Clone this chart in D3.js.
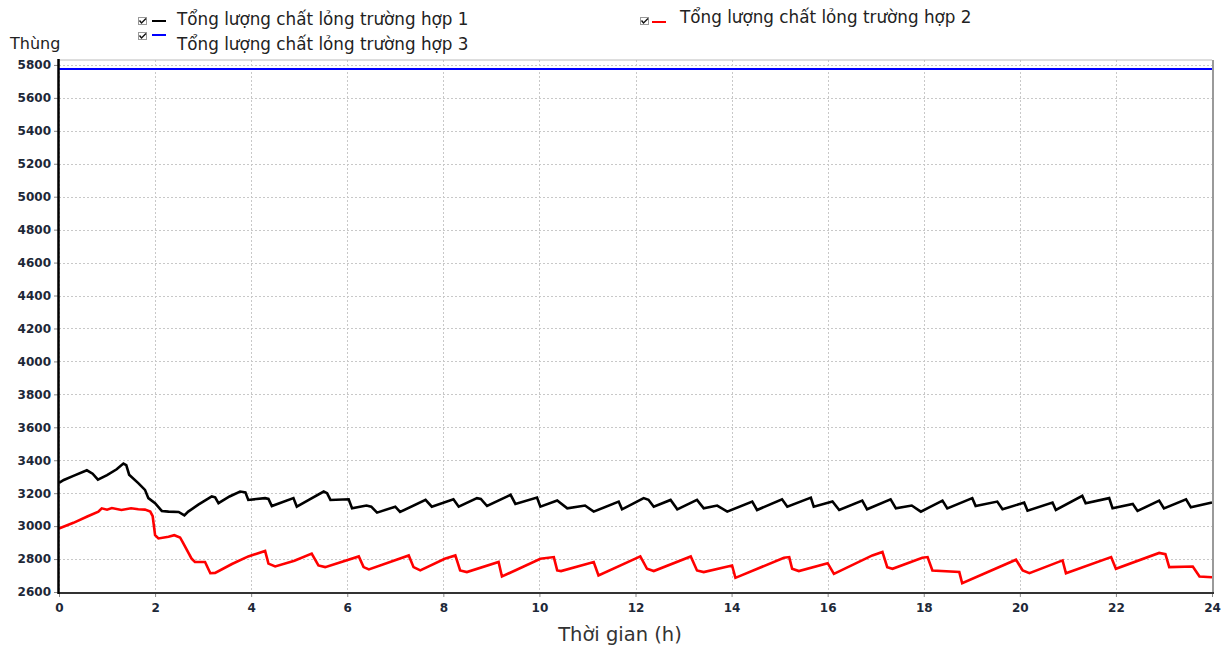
<!DOCTYPE html>
<html>
<head>
<meta charset="utf-8">
<script src="https://cdn.jsdelivr.net/npm/d3@7"></script>
<style>
  html, body { margin: 0; padding: 0; background: #fff; }
  svg { display: block; }
</style>
</head>
<body>
<svg id="chart" width="1229" height="648"></svg>
<script>
// Tick values
const xTicks = [0, 2, 4, 6, 8, 10, 12, 14, 16, 18, 20, 22, 24];
const yTicks = [2600, 2800, 3000, 3200, 3400, 3600, 3800, 4000, 4200, 4400, 4600, 4800, 5000, 5200, 5400, 5600, 5800];

// Series names
const seriesNames = [
  "Tổng lượng chất lỏng trường hợp 1",
  "Tổng lượng chất lỏng trường hợp 2",
  "Tổng lượng chất lỏng trường hợp 3"
];

// Case 1: [hour, barrels]
const case1 = [
  [0,3262],[0.1,3280],[0.3,3305],[0.58,3339],[0.7,3318],[0.81,3282],[1.0,3310],[1.2,3345],[1.34,3380],[1.4,3370],
  [1.46,3312],[1.65,3261],[1.79,3220],[1.86,3170],[2.0,3139],[2.14,3092],[2.28,3088],[2.49,3086],[2.61,3065],[2.69,3088],
  [2.9,3130],[3.18,3180],[3.25,3175],[3.32,3139],[3.55,3180],[3.77,3210],[3.88,3205],[3.94,3159],[4.29,3170],[4.36,3165],
  [4.43,3122],[4.88,3170],[4.95,3118],[5.2,3160],[5.51,3210],[5.58,3200],[5.65,3159],[6.03,3163],[6.10,3108],[6.4,3125],
  [6.5,3118],[6.62,3082],[7.0,3118],[7.10,3086],[7.63,3159],[7.76,3118],[8.21,3163],[8.32,3118],[8.70,3170],[8.78,3165],
  [8.91,3122],[9.40,3190],[9.50,3135],[9.95,3173],[10.02,3118],[10.37,3155],[10.58,3108],[10.95,3125],[11.13,3088],[11.65,3149],
  [11.72,3102],[12.17,3170],[12.27,3160],[12.38,3118],[12.73,3159],[12.87,3102],[13.28,3159],[13.42,3108],[13.7,3125],[13.91,3088],
  [14.43,3149],[14.53,3098],[15.05,3163],[15.16,3118],[15.65,3173],[15.71,3118],[16.1,3150],[16.24,3098],[16.72,3155],[16.82,3102],
  [17.31,3163],[17.42,3108],[17.75,3125],[17.94,3088],[18.39,3155],[18.49,3108],[19.01,3170],[19.08,3122],[19.53,3149],[19.64,3102],
  [20.09,3143],[20.16,3094],[20.68,3143],[20.75,3098],[21.30,3184],[21.37,3139],[21.86,3170],[21.93,3108],[22.35,3135],[22.45,3092],
  [22.90,3155],[23.0,3108],[23.46,3163],[23.56,3114],[24.0,3143]
];

// Case 2: [hour, barrels]
const case2 = [
  [0,2986],[0.3,3020],[0.6,3060],[0.82,3088],[0.89,3108],[1.0,3100],[1.1,3110],[1.3,3098],[1.5,3108],[1.65,3102],
  [1.79,3100],[1.9,3088],[1.95,3060],[2.0,2945],[2.07,2925],[2.28,2935],[2.4,2945],[2.52,2931],[2.58,2900],[2.76,2802],
  [2.83,2782],[3.04,2782],[3.15,2714],[3.25,2716],[3.6,2770],[3.94,2816],[4.29,2849],[4.36,2772],[4.5,2755],[4.9,2790],
  [5.26,2833],[5.40,2761],[5.54,2751],[6.24,2816],[6.34,2751],[6.45,2737],[7.28,2822],[7.38,2751],[7.52,2731],[8.03,2802],
  [8.25,2822],[8.35,2731],[8.49,2721],[9.15,2782],[9.22,2694],[10.02,2802],[10.30,2812],[10.37,2731],[10.45,2727],[11.13,2782],
  [11.23,2700],[12.10,2816],[12.24,2741],[12.38,2727],[13.15,2816],[13.28,2731],[13.42,2721],[14.01,2761],[14.08,2686],[15.09,2808],
  [15.2,2812],[15.26,2741],[15.40,2727],[16.0,2775],[16.13,2710],[16.93,2822],[17.14,2843],[17.24,2751],[17.35,2741],[17.97,2808],
  [18.08,2812],[18.18,2731],[18.74,2721],[18.80,2653],[19.92,2796],[20.06,2731],[20.2,2714],[20.89,2792],[20.96,2714],[21.90,2812],
  [22.0,2741],[22.90,2837],[23.03,2830],[23.11,2751],[23.6,2755],[23.74,2694],[24.0,2690]
];

// Case 3: constant level
const case3 = [[0,5775],[24,5775]];

const colors = ["#000000", "#ff0000", "#0000ff"];

const svg = d3.select("#chart");
const plotLeft = 59, plotRight = 1212, plotTop = 60, plotBottom = 592;

const x = d3.scaleLinear().domain([0, 24]).range([plotLeft, plotRight]);
const y = d3.scaleLinear().domain([2600, 5830]).range([plotBottom, plotTop]);

// Dotted grid
const grid = svg.append("g").attr("stroke", "#c8c8c8").attr("stroke-width", 1).attr("stroke-dasharray", "2,2");
grid.selectAll("line.h").data(yTicks).join("line")
  .attr("x1", plotLeft).attr("x2", plotRight)
  .attr("y1", d => Math.round(y(d)) + 0.5).attr("y2", d => Math.round(y(d)) + 0.5);
grid.selectAll("line.v").data(xTicks).join("line")
  .attr("y1", plotTop).attr("y2", plotBottom)
  .attr("x1", d => Math.round(x(d)) + 0.5).attr("x2", d => Math.round(x(d)) + 0.5);

// Axes
const tickFont = "DejaVu Sans, Verdana, sans-serif";
const yAxis = svg.append("g").attr("transform", `translate(${plotLeft},0)`)
  .call(d3.axisLeft(y).tickValues(yTicks).tickSize(5).tickPadding(3).tickFormat(d3.format("d")));
const xAxis = svg.append("g").attr("transform", `translate(0,${plotBottom})`)
  .call(d3.axisBottom(x).tickValues(xTicks).tickSize(5).tickPadding(6).tickFormat(d3.format("d")));
[yAxis, xAxis].forEach(a => {
  a.select(".domain").remove();
  a.selectAll(".tick line").attr("stroke", "#888");
  a.selectAll(".tick text")
    .attr("fill", "#1d2838")
    .style("font-family", tickFont)
    .style("font-weight", "bold")
    .style("font-size", "12px");
});

// Series lines
const line = d3.line().x(d => x(d[0])).y(d => y(d[1]));
const series = [case1, case2, case3];
svg.append("g").attr("fill", "none").selectAll("path").data(series).join("path")
  .attr("d", line)
  .attr("stroke", (d, i) => colors[i])
  .attr("stroke-width", (d, i) => i === 2 ? 2 : 2.6)
  .attr("stroke-linejoin", "miter");

// Frame
svg.append("line").attr("x1", plotLeft).attr("x2", plotRight).attr("y1", plotTop).attr("y2", plotTop)
  .attr("stroke", "#bbb").attr("stroke-width", 1);
svg.append("line").attr("x1", plotRight + 1).attr("x2", plotRight + 1).attr("y1", plotTop).attr("y2", plotBottom + 2)
  .attr("stroke", "#9a9a9a").attr("stroke-width", 2);
svg.append("line").attr("x1", plotLeft).attr("x2", plotRight + 2).attr("y1", plotBottom + 1).attr("y2", plotBottom + 1)
  .attr("stroke", "#333").attr("stroke-width", 2);
svg.append("line").attr("x1", plotLeft - 0.5).attr("x2", plotLeft - 0.5).attr("y1", plotTop - 1).attr("y2", plotBottom + 2)
  .attr("stroke", "#000").attr("stroke-width", 2.5);

// Axis titles
svg.append("text").attr("x", 10).attr("y", 49)
  .style("font-family", "DejaVu Sans, sans-serif").style("font-size", "16px").attr("fill", "#222")
  .text("Thùng");
svg.append("text").attr("x", 620).attr("y", 641).attr("text-anchor", "middle")
  .style("font-family", "DejaVu Sans, sans-serif").style("font-size", "19.5px").attr("fill", "#333")
  .text("Thời gian (h)");

// Legend
const legendItems = [
  { name: seriesNames[0], color: colors[0], bx: 138, by: 17, lx: 152, ly: 21, tx: 177, ty: 25 },
  { name: seriesNames[1], color: colors[1], bx: 640, by: 17, lx: 652, ly: 22, tx: 680, ty: 23 },
  { name: seriesNames[2], color: colors[2], bx: 138, by: 32, lx: 152, ly: 35, tx: 177, ty: 50 }
];
const lg = svg.append("g");
legendItems.forEach(it => {
  lg.append("rect").attr("x", it.bx + 0.5).attr("y", it.by + 0.5).attr("width", 8).attr("height", 7)
    .attr("fill", "#fff").attr("stroke", "#999").attr("stroke-width", 1);
  lg.append("path")
    .attr("d", `M${it.bx + 1.5},${it.by + 3.5} L${it.bx + 3.5},${it.by + 6} L${it.bx + 8},${it.by + 1.5}`)
    .attr("fill", "none").attr("stroke", "#111").attr("stroke-width", 1.4);
  lg.append("line").attr("x1", it.lx).attr("x2", it.lx + 14).attr("y1", it.ly).attr("y2", it.ly)
    .attr("stroke", it.color).attr("stroke-width", 2);
  lg.append("text").attr("x", it.tx).attr("y", it.ty)
    .style("font-family", "DejaVu Sans, sans-serif").style("font-size", "16.8px").attr("fill", "#222")
    .text(it.name);
});
</script>
</body>
</html>
